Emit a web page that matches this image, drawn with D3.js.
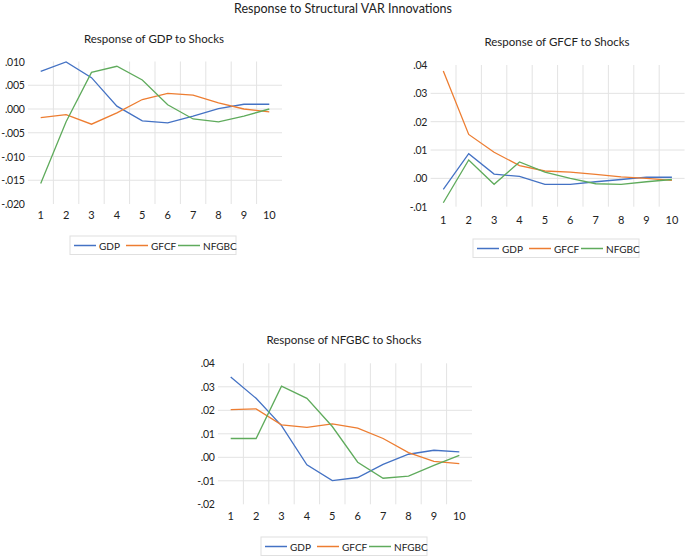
<!DOCTYPE html>
<html>
<head>
<meta charset="utf-8">
<script src="https://cdn.jsdelivr.net/npm/d3@7"></script>
<style>
  html, body { margin: 0; padding: 0; background: #fff; }
  svg { display: block; }
  text { font-family: Lato, "Open Sans", sans-serif; fill: #222; }
</style>
</head>
<body>
<svg id="chart" width="685" height="556"></svg>
<script>
// ---------- DATA ----------
const periods = [1, 2, 3, 4, 5, 6, 7, 8, 9, 10];
const seriesNames = ["GDP", "GFCF", "NFGBC"];
const seriesColors = ["#4472C4", "#ED7D31", "#5FAB5C"];

// Response of GDP to shocks
const gdpToGDP   = [0.0079, 0.0099, 0.0066, 0.0006, -0.0025, -0.0029, -0.0015, 0.0001, 0.0010, 0.0010];
const gdpToGFCF  = [-0.0018, -0.0012, -0.0032, -0.0008, 0.0020, 0.0033, 0.0029, 0.0013, 0.0000, -0.0006];
const gdpToNFGBC = [-0.0157, -0.0027, 0.0077, 0.0090, 0.0061, 0.0009, -0.0021, -0.0027, -0.0015, 0.0000];

// Response of GFCF to shocks
const gfcfToGDP   = [-0.0039, 0.0087, 0.0015, 0.0007, -0.0021, -0.0021, -0.0012, -0.0004, 0.0004, 0.0004];
const gfcfToGFCF  = [0.0379, 0.0155, 0.0092, 0.0045, 0.0026, 0.0022, 0.0014, 0.0005, 0.0000, -0.0007];
const gfcfToNFGBC = [-0.0086, 0.0065, -0.0021, 0.0058, 0.0022, 0.0000, -0.0019, -0.0021, -0.0012, -0.0004];

// Response of NFGBC to shocks
const nfgbcToGDP   = [0.0342, 0.0251, 0.0135, -0.0032, -0.0099, -0.0086, -0.0030, 0.0013, 0.0030, 0.0023];
const nfgbcToGFCF  = [0.0203, 0.0206, 0.0138, 0.0127, 0.0142, 0.0124, 0.0080, 0.0020, -0.0017, -0.0027];
const nfgbcToNFGBC = [0.0080, 0.0080, 0.0303, 0.0251, 0.0131, -0.0021, -0.0089, -0.0080, -0.0034, 0.0008];

// Tick values
const gdpTicks   = [-0.020, -0.015, -0.010, -0.005, 0.000, 0.005, 0.010];
const gfcfTicks  = [-0.01, 0.00, 0.01, 0.02, 0.03, 0.04];
const nfgbcTicks = [-0.02, -0.01, 0.00, 0.01, 0.02, 0.03, 0.04];

const mainTitle = "Response to Structural VAR Innovations";

// ---------- DRAW ----------
const svg = d3.select("#chart");

svg.append("text")
  .attr("x", 343).attr("y", 8)
  .attr("text-anchor", "middle").attr("dominant-baseline", "central")
  .style("font-size", "12.5px")
  .text(mainTitle);

const panels = [
  { title: "Response of GDP to Shocks", titleX: 154, titleY: 38,
    x0: 28, x1: 282, yTop: 61.5, yBot: 204, ticks: gdpTicks, decimals: 3, xLabOff: 10.5,
    series: [gdpToGDP, gdpToGFCF, gdpToNFGBC], legX: 70, legY: 236 },
  { title: "Response of GFCF to Shocks", titleX: 557, titleY: 41.5,
    x0: 430.6, x1: 684.6, yTop: 65, yBot: 206.7, ticks: gfcfTicks, decimals: 2, xLabOff: 13,
    series: [gfcfToGDP, gfcfToGFCF, gfcfToNFGBC], legX: 473, legY: 239 },
  { title: "Response of NFGBC to Shocks", titleX: 344, titleY: 339,
    x0: 218, x1: 472, yTop: 363.3, yBot: 504.3, ticks: nfgbcTicks, decimals: 2, xLabOff: 11.5,
    series: [nfgbcToGDP, nfgbcToGFCF, nfgbcToNFGBC], legX: 261, legY: 537 }
];

function fmtTick(v, dec) {
  return d3.format("." + dec + "f")(v).replace("\u2212", "-").replace(/^(-?)0\./, "$1.");
}

panels.forEach(p => {
  const g = svg.append("g");
  const x = d3.scaleBand().domain(periods).range([p.x0, p.x1]);
  const y = d3.scaleLinear().domain([p.ticks[0], p.ticks[p.ticks.length - 1]]).range([p.yBot, p.yTop]);

  // horizontal gridlines (interior only)
  g.selectAll(".hg").data(p.ticks.slice(1, -1)).enter().append("line")
    .attr("x1", p.x0).attr("x2", p.x1)
    .attr("y1", d => y(d)).attr("y2", d => y(d))
    .attr("stroke", "#e3e3e3").attr("stroke-width", 1);

  // vertical gridlines at interior band boundaries
  g.selectAll(".vg").data(periods.slice(1)).enter().append("line")
    .attr("x1", d => x(d)).attr("x2", d => x(d))
    .attr("y1", p.yTop).attr("y2", p.yBot)
    .attr("stroke", "#e3e3e3").attr("stroke-width", 1);

  // y tick labels
  g.selectAll(".yt").data(p.ticks).enter().append("text")
    .attr("x", p.x0 - 3.5).attr("y", d => y(d))
    .attr("text-anchor", "end").attr("dominant-baseline", "central")
    .style("font-size", "10.5px")
    .style("letter-spacing", "-0.3px")
    .text(d => fmtTick(d, p.decimals));

  // x tick labels
  g.selectAll(".xt").data(periods).enter().append("text")
    .attr("x", d => x(d) + x.bandwidth() / 2).attr("y", p.yBot + p.xLabOff)
    .attr("text-anchor", "middle").attr("dominant-baseline", "central")
    .style("font-size", "11px")
    .text(d => d);

  // title
  g.append("text")
    .attr("x", p.titleX).attr("y", p.titleY)
    .attr("text-anchor", "middle").attr("dominant-baseline", "central")
    .style("font-size", "11.5px")
    .text(p.title);

  // lines
  const line = d3.line()
    .x((d, i) => x(periods[i]) + x.bandwidth() / 2)
    .y(d => y(d));
  p.series.forEach((s, i) => {
    g.append("path").datum(s)
      .attr("d", line)
      .attr("fill", "none")
      .attr("stroke", seriesColors[i])
      .attr("stroke-width", 1.3);
  });

  // legend
  const lg = g.append("g").attr("transform", `translate(${p.legX},${p.legY})`);
  lg.append("rect").attr("x", 0).attr("y", 0).attr("width", 166).attr("height", 18.5)
    .attr("fill", "#fff").attr("stroke", "#e0e0e0").attr("stroke-width", 1);
  const offs = [4, 56, 108];
  seriesNames.forEach((name, i) => {
    lg.append("line").attr("x1", offs[i]).attr("x2", offs[i] + 22)
      .attr("y1", 9.5).attr("y2", 9.5)
      .attr("stroke", seriesColors[i]).attr("stroke-width", 1.5);
    lg.append("text").attr("x", offs[i] + 25).attr("y", 9.5)
      .attr("dominant-baseline", "central")
      .style("font-size", "10px")
      .text(name);
  });
});
</script>
</body>
</html>
